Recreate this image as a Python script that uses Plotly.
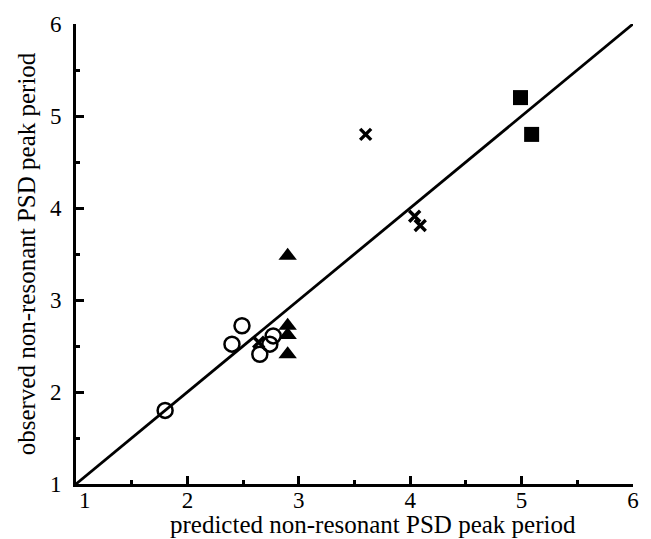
import plotly.graph_objects as go

circle_x = [1.80, 2.40, 2.49, 2.65, 2.74, 2.77]
circle_y = [1.80, 2.52, 2.72, 2.41, 2.52, 2.61]
tri_x = [2.90, 2.90, 2.90, 2.90]
tri_y = [3.48, 2.72, 2.62, 2.41]
cross_x = [3.60, 4.04, 4.09, 2.64]
cross_y = [4.80, 3.91, 3.81, 2.54]
square_x = [4.99, 5.09]
square_y = [5.20, 4.80]
line_x = [1, 6]
line_y = [1, 6]
tick_vals = [1, 2, 3, 4, 5, 6]
x_tick_text = ["\u00a0\u00a0\u00a01", "2", "3", "4", "5", "6"]
y_tick_text = ["1", "2", "3", "4", "5", "6"]
x_title = "predicted non-resonant PSD peak period"
y_title = "observed non-resonant PSD peak period"

fig = go.Figure()
fig.add_trace(go.Scatter(x=line_x, y=line_y, mode="lines",
                         line=dict(color="black", width=2.8), showlegend=False))
fig.add_trace(go.Scatter(x=circle_x, y=circle_y, mode="markers",
                         marker=dict(symbol="circle-open", size=15, color="black",
                                     line=dict(width=2.5, color="black")), showlegend=False))
fig.add_trace(go.Scatter(x=tri_x, y=tri_y, mode="markers",
                         marker=dict(symbol="triangle-up", size=16, color="black"), showlegend=False))
fig.add_trace(go.Scatter(x=cross_x, y=cross_y, mode="markers",
                         marker=dict(symbol="x-thin-open", size=11, color="black",
                                     line=dict(width=3.4, color="black")), showlegend=False))
fig.add_trace(go.Scatter(x=square_x, y=square_y, mode="markers",
                         marker=dict(symbol="square", size=15, color="black"), showlegend=False))

axis_common = dict(
    range=[1, 6], tickvals=tick_vals,
    showgrid=False, zeroline=False, showline=True, linecolor="black", linewidth=3,
    ticks="inside", ticklen=8, tickwidth=2.5, tickcolor="black",
    minor=dict(ticks="inside", ticklen=4, tickwidth=2.5, tickcolor="black", dtick=0.5, showgrid=False),
    tickfont=dict(family="Liberation Serif", size=23, color="black"),
)
fig.update_xaxes(**axis_common, ticktext=x_tick_text, ticklabelstandoff=-7)
fig.update_yaxes(**axis_common, ticktext=y_tick_text, ticklabelstandoff=7,
                 title=dict(text=y_title,
                            font=dict(family="Liberation Serif", size=25, color="black"), standoff=8))
fig.add_annotation(text=x_title, xref="paper", yref="paper", x=0.533, y=0,
                   xanchor="center", yanchor="middle", yshift=-40, showarrow=False,
                   font=dict(family="Liberation Serif", size=25, color="black"))
fig.update_layout(width=651, height=539, margin=dict(l=76, r=16, t=17, b=55),
                  plot_bgcolor="white", paper_bgcolor="white")
fig.write_html("out.html")
